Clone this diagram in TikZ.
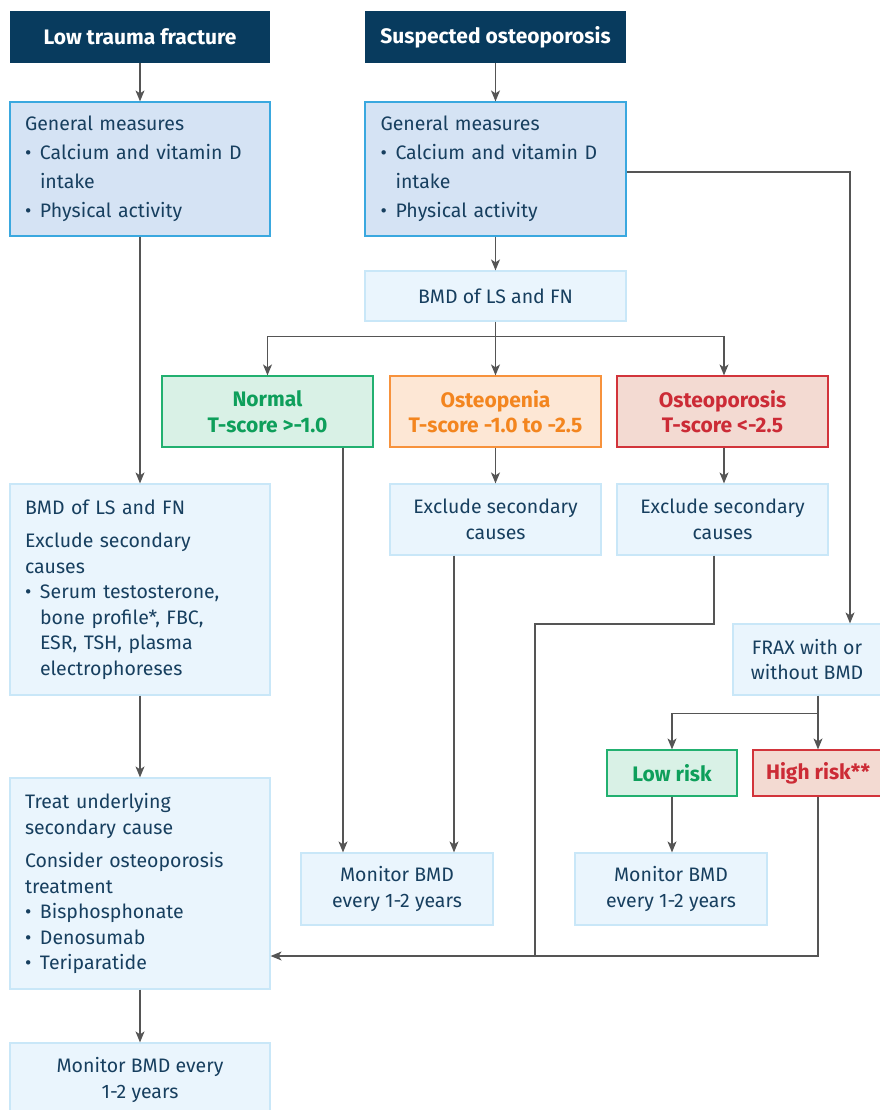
\documentclass[tikz,border=0pt]{standalone}
\usepackage{fontspec}
\setmainfont{Fira Sans}
\usepackage{tikz}
\usetikzlibrary{arrows.meta}

\definecolor{navy}{HTML}{083B5E}
\definecolor{ink}{HTML}{173F5F}
\definecolor{gmfill}{HTML}{D5E3F4}
\definecolor{gmline}{HTML}{3AA8DF}
\definecolor{boxfill}{HTML}{EAF5FD}
\definecolor{boxline}{HTML}{C9E7F8}
\definecolor{okfill}{HTML}{D9F1E6}
\definecolor{okline}{HTML}{22B070}
\definecolor{oktext}{HTML}{0E9F5B}
\definecolor{penfill}{HTML}{FDE7D5}
\definecolor{penline}{HTML}{F7923C}
\definecolor{pentext}{HTML}{F3851F}
\definecolor{porfill}{HTML}{F3DAD2}
\definecolor{porline}{HTML}{D2343B}
\definecolor{portext}{HTML}{CC2B36}
\definecolor{wire}{HTML}{555555}

\newcommand{\itm}{\makebox[15pt][l]{•}}
\newcommand{\ind}{\hspace*{15pt}}

\begin{document}
\begin{tikzpicture}[x=1pt, y=-1pt,
    font=\fontsize{19.5}{25.5}\selectfont,
    head/.style={fill=navy, text=white, font=\fontsize{21}{24}\selectfont\bfseries,
        minimum width=260, minimum height=52, inner sep=0},
    general/.style={fill=gmfill, draw=gmline, line width=1.2, text=ink,
        minimum width=260, minimum height=134, text width=230, align=left, inner xsep=15},
    plain/.style={fill=boxfill, draw=boxline, line width=1.2, text=ink, align=center, inner sep=0},
    listbox/.style={fill=boxfill, draw=boxline, line width=1.2, text=ink,
        minimum width=260, minimum height=211, text width=230, align=left, inner xsep=15},
    normalbox/.style={fill=okfill, draw=okline, line width=1.2, text=oktext, font=\fontsize{21}{25.5}\selectfont\bfseries,
        align=center, inner sep=0},
    penbox/.style={fill=penfill, draw=penline, line width=1.2, text=pentext, font=\fontsize{21}{25.5}\selectfont\bfseries,
        align=center, inner sep=0},
    porbox/.style={fill=porfill, draw=porline, line width=1.2, text=portext, font=\fontsize{21}{25.5}\selectfont\bfseries,
        align=center, inner sep=0},
    line/.style={draw=wire, line width=1.3},
    arr/.style={line, -{Stealth[length=11, width=9, inset=3]}}]

    \useasboundingbox (0,0) rectangle (879,1110);

    % Headers
    \node[head] (fracture) at (140,37) {Low trauma fracture};
    \node[head, minimum width=261] (suspect) at (495.5,37) {Suspected osteoporosis};

    % General measures
    \node[general] (gmleft) at (140,169) {General measures\\[3.5pt]
        \itm Calcium and vitamin D\\[3.5pt] \ind intake\\[3.5pt] \itm Physical activity};
    \node[general, minimum width=261] (gmright) at (495.5,169) {General measures\\[3.5pt]
        \itm Calcium and vitamin D\\[3.5pt] \ind intake\\[3.5pt] \itm Physical activity};

    % Right branch
    \node[plain, minimum width=261, minimum height=50] (bmd) at (495.5,296) {BMD of LS and FN};
    \node[normalbox, minimum width=211, minimum height=71] (normal) at (267.5,411.5) {Normal\\T-score >-1.0};
    \node[penbox, minimum width=211, minimum height=71] (penia) at (495.5,411.5) {Osteopenia\\T-score -1.0 to -2.5};
    \node[porbox, minimum width=211, minimum height=71] (porosis) at (722.5,411.5) {Osteoporosis\\T-score <-2.5};
    \node[plain, minimum width=211, minimum height=71] (exclmid) at (495.5,519.5) {Exclude secondary\\causes};
    \node[plain, minimum width=211, minimum height=71] (exclright) at (722.5,519.5) {Exclude secondary\\causes};
    \node[plain, minimum width=148, minimum height=71] (frax) at (807,659.5) {FRAX with or\\without BMD};
    \node[normalbox, minimum width=130, minimum height=46] (lowrisk) at (672,773) {Low risk};
    \node[porbox, minimum width=130, minimum height=46] (highrisk) at (818,773) {High risk**};
    \node[plain, minimum width=192, minimum height=72] (monmid) at (397,889) {Monitor BMD\\every 1-2 years};
    \node[plain, minimum width=192, minimum height=72] (monright) at (671,889) {Monitor BMD\\every 1-2 years};

    % Left branch
    \node[listbox] (bmdleft) at (140,589.5) {BMD of LS and FN\\[8pt]
        Exclude secondary\\ causes\\ \itm Serum testosterone,\\ \ind bone profile*, FBC,\\
        \ind ESR, TSH, plasma\\ \ind electrophoreses};
    \node[listbox] (treat) at (140,883.5) {Treat underlying\\ secondary cause\\[8pt]
        Consider osteoporosis\\ treatment\\ \itm Bisphosphonate\\ \itm Denosumab\\ \itm Teriparatide};
    \node[plain, minimum width=260, minimum height=74] (monleft) at (140,1080) {Monitor BMD every\\1-2 years};

    \coordinate (bend) at (535,624);
    \coordinate (merge) at (535,956);

    % Connectors
    \draw[arr] (fracture) -- (gmleft);
    \draw[arr] (gmleft) -- (bmdleft);
    \draw[arr] (bmdleft) -- (treat);
    \draw[arr] (treat) -- (monleft);
    \draw[arr] (suspect) -- (gmright);
    \draw[arr] (gmright) -- (bmd);
    \draw[arr] ([yshift=-3]gmright.east) -| ([xshift=43]frax.north);

    \draw[line] (bmd.south) -- ++(0,15) coordinate (split);
    \draw[arr] (split) -| (normal.north);
    \draw[arr] (split) -- (penia.north);
    \draw[arr] (split) -| ([xshift=1.5]porosis.north);
    \draw[arr] (penia) -- (exclmid);
    \draw[arr] ([xshift=1.5]porosis.south) -- ([xshift=1.5]exclright.north);
    \draw[arr] ([xshift=75.5]normal.south) -- ([xshift=75.5]normal.south |- monmid.north);
    \draw[arr] ([xshift=-41.5]exclmid.south) -- ([xshift=-41.5]exclmid.south |- monmid.north);

    \draw[line] ([xshift=11]frax.south) -- ++(0,18) coordinate (fsplit);
    \draw[arr] (fsplit) -| (lowrisk.north);
    \draw[arr] (fsplit) -- (highrisk.north);
    \draw[arr] (lowrisk) -- (lowrisk |- monright.north);

    \draw[line] ([xshift=-8.5]exclright.south) |- (bend) -- (merge);
    \draw[line] (highrisk.south) |- (merge);
    \draw[arr] (merge) -- (merge -| treat.east);
\end{tikzpicture}
\end{document}
